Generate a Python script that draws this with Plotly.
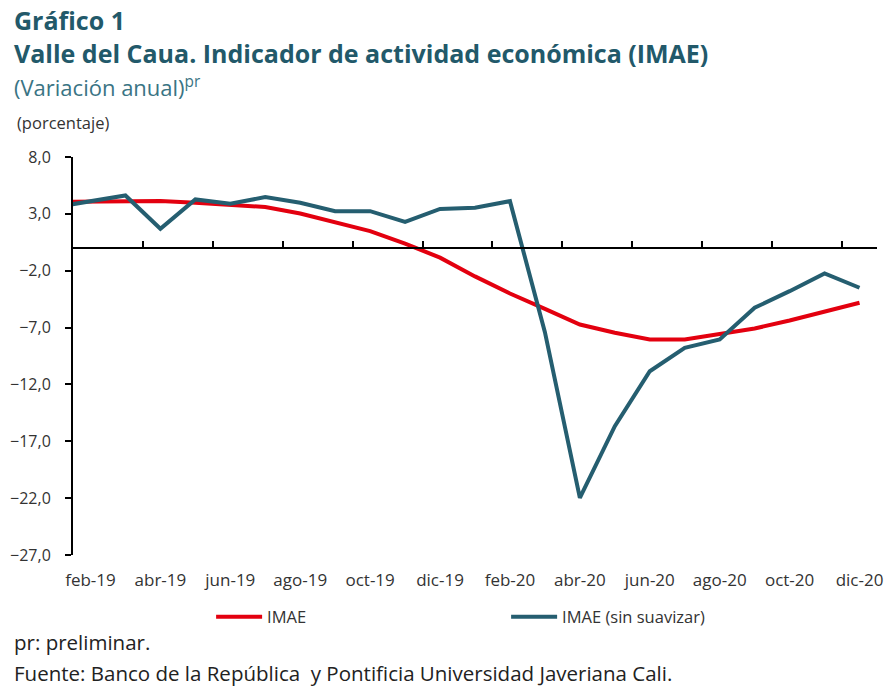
import plotly.graph_objects as go

months = ["ene-19", "feb-19", "mar-19", "abr-19", "may-19", "jun-19", "jul-19", "ago-19",
          "sep-19", "oct-19", "nov-19", "dic-19", "ene-20", "feb-20", "mar-20", "abr-20",
          "may-20", "jun-20", "jul-20", "ago-20", "sep-20", "oct-20", "nov-20", "dic-20"]
imae = [4.05, 4.09, 4.12, 4.12, 3.98, 3.78, 3.60, 3.03, 2.24, 1.48, 0.38, -0.85,
        -2.50, -4.00, -5.36, -6.73, -7.46, -8.05, -8.05, -7.60, -7.08, -6.38, -5.56, -4.82]
imae_raw = [3.60, 4.10, 4.62, 1.69, 4.27, 3.89, 4.47, 3.98, 3.24, 3.24, 2.30, 3.43,
            3.54, 4.12, -7.40, -21.97, -15.67, -10.84, -8.78, -8.05, -5.26, -3.80, -2.24, -3.50]
y_ticks = [8, 3, -2, -7, -12, -17, -22, -27]

xi = list(range(len(months)))
label_idx = [i for i in xi if i % 2 == 1]
label_txt = [months[i] for i in label_idx]
sep_ticks = [i + 0.5 for i in xi if i % 2 == 0 and 2 <= i + 0.5 <= 23]

RED = "#E3000F"
TEAL = "#255E70"
TITLE = "#22596A"
FONT = "Open Sans"

# layout geometry (pixels)
W, H = 893, 686
L, R, T, B = 68, 10, 157, 131
pw, ph = W - L - R, H - T - B

def px(x):
    return (x - L) / pw

def py(y):
    return (H - B - y) / ph

fig = go.Figure()
fig.add_trace(go.Scatter(x=xi, y=imae, mode="lines", name="IMAE",
                         line=dict(color=RED, width=4)))
fig.add_trace(go.Scatter(x=xi, y=imae_raw, mode="lines", name="IMAE (sin suavizar)",
                         line=dict(color=TEAL, width=4)))
# invisible trace for the zero-line tick axis
fig.add_trace(go.Scatter(x=[xi[0]], y=[0], xaxis="x2", mode="lines",
                         showlegend=False, hoverinfo="skip",
                         line=dict(color="rgba(0,0,0,0)")))

fig.update_layout(
    width=W, height=H,
    margin=dict(l=L, r=R, t=T, b=B),
    paper_bgcolor="white", plot_bgcolor="white",
    separators=",.",
    font=dict(family=FONT, size=15, color="#333333"),
    showlegend=True,
    legend=dict(orientation="h", x=px(208), y=py(617), xanchor="left", yanchor="middle",
                font=dict(family=FONT, size=16.5, color="#333333"),
                itemwidth=46,
                entrywidth=234, entrywidthmode="pixels", bgcolor="rgba(0,0,0,0)"),
    xaxis=dict(range=[0.5, 23.5], tickmode="array", tickvals=label_idx, ticktext=label_txt,
               showline=False, showgrid=False, zeroline=False,
               ticks="outside", ticklen=10, tickcolor="rgba(0,0,0,0)",
               tickfont=dict(family=FONT, size=17, color="#333333")),
    xaxis2=dict(range=[0.5, 23.5], overlaying="x", anchor="free",
                position=(0 - y_ticks[-1]) / (y_ticks[0] - y_ticks[-1]),
                side="bottom", tickmode="array", tickvals=sep_ticks,
                showticklabels=False, showline=True, linecolor="black", linewidth=2,
                ticks="inside", ticklen=6, tickwidth=2, tickcolor="black",
                showgrid=False, zeroline=False),
    yaxis=dict(range=[y_ticks[-1], y_ticks[0]], tickmode="array", tickvals=y_ticks,
               tickformat=".1f", showline=True, linecolor="black", linewidth=2,
               ticks="outside", ticklen=6, tickwidth=2, tickcolor="black",
               ticklabelstandoff=11,
               showgrid=False, zeroline=False,
               tickfont=dict(family=FONT, size=16, color="#333333")),
)

ann = [
    dict(text="<b>Gráfico 1</b>", x=px(6), y=py(20), size=25, color=TITLE),
    dict(text="<b>Valle del Caua. Indicador de actividad económica (IMAE)</b>", x=px(6), y=py(53), size=25, color=TITLE),
    dict(text="(Variación anual)<sup>pr</sup>", x=px(6), y=py(86), size=22, color="#3A7484"),
    dict(text="(porcentaje)", x=px(9), y=py(122), size=16.5, color="#333333"),
    dict(text="pr: preliminar.", x=px(6), y=py(642), size=20.5, color="#222222"),
    dict(text="Fuente: Banco de la República  y Pontificia Universidad Javeriana Cali.", x=px(6), y=py(673), size=20.5, color="#222222"),
]
for a in ann:
    fig.add_annotation(text=a["text"], x=a["x"], y=a["y"], xref="paper", yref="paper",
                       xanchor="left", yanchor="middle", showarrow=False,
                       font=dict(family=FONT, size=a["size"], color=a["color"]))

fig.write_html("out.html", config={"displayModeBar": False},
               post_script="document.body.style.margin='0';")
